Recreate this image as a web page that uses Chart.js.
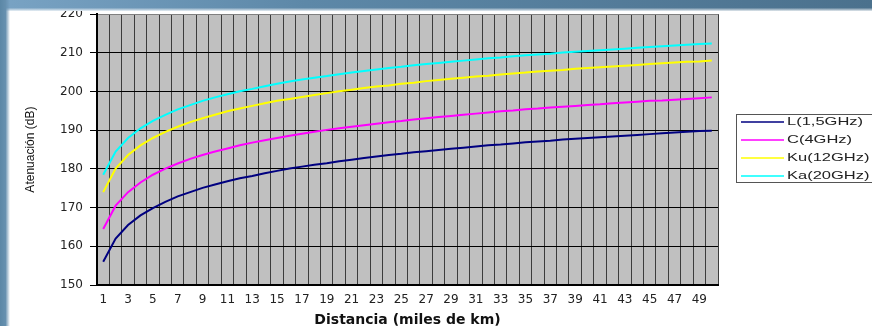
<!DOCTYPE html>
<html>
<head>
<meta charset="utf-8">
<script src="https://cdn.jsdelivr.net/npm/chart.js@4/dist/chart.umd.min.js"></script>
<style>
  html, body { margin: 0; padding: 0; background: #fff; }
  #wrap { position: relative; width: 872px; height: 326px; overflow: hidden; }
  #frameTop {
    position: absolute; left: 0; top: 0; width: 872px; height: 11px; pointer-events: none;
    background: linear-gradient(to bottom, rgba(255,255,255,0) 0%, rgba(255,255,255,0) 70%, rgba(255,255,255,0.85) 100%),
                linear-gradient(90deg, #79a3c4 0%, #5d88a8 35%, #4b718d 100%);
  }
  #frameLeft {
    position: absolute; left: 0; top: 0; width: 10px; height: 326px; pointer-events: none;
    background: linear-gradient(90deg, #5b87a6 0%, #6690af 55%, rgba(255,255,255,0) 100%);
  }
</style>
</head>
<body>
<div id="wrap">
  <canvas id="chart" width="872" height="326"></canvas>
  <div id="frameTop"></div>
  <div id="frameLeft"></div>
</div>
<script>
// Free space loss vs distance, four satellite bands
const distances = [1, 2, 3, 4, 5, 6, 7, 8, 9, 10, 11, 12, 13, 14, 15, 16, 17, 18, 19, 20,
  21, 22, 23, 24, 25, 26, 27, 28, 29, 30, 31, 32, 33, 34, 35, 36, 37, 38, 39, 40,
  41, 42, 43, 44, 45, 46, 47, 48, 49, 50];

const bandL = [156.0, 162.0, 165.5, 168.0, 169.9, 171.5, 172.9, 174.0, 175.1, 176.0,
  176.8, 177.6, 178.2, 178.9, 179.5, 180.1, 180.6, 181.1, 181.5, 182.0,
  182.4, 182.8, 183.2, 183.6, 183.9, 184.3, 184.6, 184.9, 185.2, 185.5,
  185.8, 186.1, 186.3, 186.6, 186.9, 187.1, 187.3, 187.6, 187.8, 188.0,
  188.2, 188.4, 188.6, 188.8, 189.0, 189.2, 189.4, 189.6, 189.8, 189.9];

const bandC = [164.5, 170.5, 174.0, 176.5, 178.5, 180.1, 181.4, 182.6, 183.6, 184.5,
  185.3, 186.1, 186.8, 187.4, 188.0, 188.6, 189.1, 189.6, 190.1, 190.5,
  190.9, 191.3, 191.7, 192.1, 192.4, 192.8, 193.1, 193.4, 193.7, 194.0,
  194.3, 194.6, 194.9, 195.1, 195.4, 195.6, 195.9, 196.1, 196.3, 196.5,
  196.7, 197.0, 197.2, 197.4, 197.6, 197.7, 197.9, 198.1, 198.3, 198.5];

const bandKu = [174.0, 180.1, 183.6, 186.1, 188.0, 189.6, 190.9, 192.1, 193.1, 194.0,
  194.9, 195.6, 196.3, 197.0, 197.6, 198.1, 198.6, 199.1, 199.6, 200.1,
  200.5, 200.9, 201.3, 201.6, 202.0, 202.3, 202.7, 203.0, 203.3, 203.6,
  203.9, 204.1, 204.4, 204.7, 204.9, 205.2, 205.4, 205.6, 205.9, 206.1,
  206.3, 206.5, 206.7, 206.9, 207.1, 207.3, 207.5, 207.7, 207.8, 208.0];

const bandKa = [178.5, 184.5, 188.0, 190.5, 192.4, 194.0, 195.4, 196.5, 197.6, 198.5,
  199.3, 200.1, 200.7, 201.4, 202.0, 202.6, 203.1, 203.6, 204.0, 204.5,
  204.9, 205.3, 205.7, 206.1, 206.4, 206.8, 207.1, 207.4, 207.7, 208.0,
  208.3, 208.6, 208.8, 209.1, 209.4, 209.6, 209.8, 210.1, 210.3, 210.5,
  210.7, 210.9, 211.1, 211.3, 211.5, 211.7, 211.9, 212.1, 212.3, 212.4];

const seriesNames = ["L(1,5GHz)", "C(4GHz)", "Ku(12GHz)", "Ka(20GHz)"];
const seriesColors = ["#000080", "#ff00ff", "#ffff00", "#00ffff"];
const yMin = 150, yMax = 220, yStep = 10;

// Grey plot background (Excel style)
const plotBackground = {
  id: "plotBackground",
  beforeDraw(chart) {
    const { ctx, chartArea: a } = chart;
    ctx.save();
    ctx.fillStyle = "#c0c0c0";
    ctx.fillRect(a.left, a.top, a.right - a.left, a.bottom - a.top);
    ctx.restore();
  }
};

// Legend box on the right, partly cut by the picture edge
const sideLegend = {
  id: "sideLegend",
  afterDraw(chart) {
    const ctx = chart.ctx;
    const x0 = 736, y0 = 114, rowH = 18;
    ctx.save();
    ctx.fillStyle = "#fff";
    ctx.fillRect(x0, y0, 200, 68);
    ctx.strokeStyle = "#555";
    ctx.lineWidth = 1;
    ctx.strokeRect(x0 + 0.5, y0 + 0.5, 200, 68);
    chart.data.datasets.forEach((ds, i) => {
      const y = y0 + 8 + i * rowH;
      ctx.strokeStyle = ds.borderColor;
      ctx.lineWidth = 1.5;
      ctx.beginPath();
      ctx.moveTo(x0 + 5, y);
      ctx.lineTo(x0 + 48, y);
      ctx.stroke();
      ctx.save();
      ctx.translate(x0 + 51, y);
      ctx.scale(1.5, 1);
      ctx.fillStyle = "#222";
      ctx.font = "11px 'Liberation Sans', Arial, sans-serif";
      ctx.textBaseline = "middle";
      ctx.fillText(ds.label, 0, 0);
      ctx.restore();
    });
    ctx.restore();
  }
};

const datasets = [bandL, bandC, bandKu, bandKa].map((vals, i) => ({
  label: seriesNames[i],
  data: vals,
  borderColor: seriesColors[i],
  backgroundColor: seriesColors[i],
  borderWidth: 2,
  pointRadius: 0,
  tension: 0,
  fill: false
}));

new Chart(document.getElementById("chart"), {
  type: "line",
  data: { labels: distances, datasets: datasets },
  options: {
    responsive: false,
    animation: false,
    layout: { padding: { top: 9, right: 154, bottom: 0, left: 0 } },
    plugins: {
      legend: { display: false },
      tooltip: { enabled: false }
    },
    scales: {
      x: {
        type: "category",
        offset: true,
        afterFit(scale) { scale.height = 41; },
        grid: {
          offset: true,
          color: "#3c3c3c",
          lineWidth: 1,
          drawTicks: false
        },
        border: { color: "#000", width: 2 },
        ticks: {
          autoSkip: false,
          maxRotation: 0,
          minRotation: 0,
          padding: 8,
          color: "#222",
          font: { family: "'DejaVu Sans', sans-serif", size: 12 },
          callback: function (value, index) {
            return index % 2 === 0 ? String(distances[index]) : "";
          }
        },
        title: {
          display: true,
          text: "Distancia (miles de km)",
          color: "#111",
          padding: { top: 0, bottom: 0 },
          font: { family: "'DejaVu Sans', sans-serif", size: 14, weight: "bold", lineHeight: 0.8 }
        }
      },
      y: {
        min: yMin,
        max: yMax,
        afterFit(scale) { scale.width = 97; },
        grid: {
          color: (c) => (c.tick && c.tick.value === yMax ? "#808080" : "#000"),
          tickColor: "#000",
          lineWidth: 1,
          tickLength: 7
        },
        border: { color: "#000", width: 2 },
        ticks: {
          stepSize: yStep,
          padding: 7,
          color: "#222",
          font: { family: "'DejaVu Sans', sans-serif", size: 12 }
        },
        title: {
          display: true,
          text: "Atenuación (dB)",
          color: "#111",
          padding: { top: 23, bottom: 0 },
          font: { family: "'Liberation Sans', Arial, sans-serif", size: 12 }
        }
      }
    }
  },
  plugins: [plotBackground, sideLegend]
});
</script>
</body>
</html>
